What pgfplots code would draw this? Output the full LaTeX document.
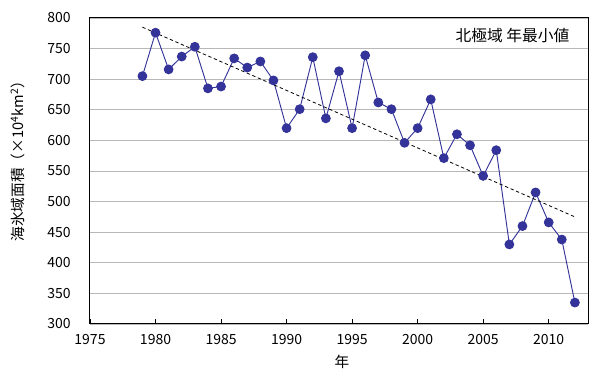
\documentclass[border=0pt]{standalone}
\usepackage{fontspec}
\setmainfont{Noto Sans CJK JP}
\usepackage{pgfplots}
\usepackage{pgfplotstable}
\pgfplotsset{compat=1.18}
\definecolor{ser}{RGB}{51,51,153}
\pgfplotstableread{
year val
1979 705
1980 776
1981 716
1982 737
1983 753
1984 685
1985 688
1986 734
1987 719
1988 729
1989 698
1990 620
1991 651
1992 736
1993 636
1994 713
1995 620
1996 739
1997 662
1998 651
1999 596
2000 620
2001 667
2002 571
2003 610
2004 592
2005 542
2006 584
2007 430
2008 460
2009 515
2010 466
2011 438
2012 335
}\datatable
\pgfplotstableread{
year val
1979 785
2012 475
}\trendtable
\begin{document}
\begin{tikzpicture}
\begin{axis}[name=ax, scale only axis, width=373.5pt, height=229.5pt,
  xmin=1975, xmax=2013, ymin=300, ymax=800,
  xtick={1975,1980,...,2010}, ytick={300,350,...,800},
  ymajorgrids, grid style={color=black!28, line width=0.6pt},
  axis line style={line width=0.75pt},
  tick align=inside, xtick pos=bottom, ytick pos=left,
  xtick style={black, line width=0.6pt}, major tick length=4pt,
  ytick style={draw=none},
  /pgf/number format/assume math mode=true,
  xticklabel style={/pgf/number format/1000 sep={}, yshift=-4pt},
  yticklabel style={xshift=-11pt},
  tick label style={font=\fontsize{10.5}{12}\selectfont},
  xlabel={年}, ylabel={海氷域面積（×10\textsuperscript{4}km\textsuperscript{2}）},
  label style={font=\fontsize{11}{13}\selectfont},
  xlabel style={at={(axis description cs:0.506,-0.125)}, anchor=center},
  ylabel style={at={(axis description cs:-0.145,0.544)}, anchor=center},
]
\addplot[color=ser, line width=0.7pt, mark=*, mark size=3.3pt, mark options={fill=ser, draw=ser}] table[x=year, y=val] {\datatable};
\addplot[black, line width=0.6pt, dash pattern=on 2.5pt off 2pt] table[x=year, y=val] {\trendtable};
\node[anchor=east, font=\fontsize{11.8}{13}\selectfont] at (axis description cs:0.972,0.944) {北極域 年最小値};
\end{axis}
\path (ax.south west) ++(-67.5pt,-40.5pt) rectangle ++(450.75pt,283.5pt);
\end{tikzpicture}
\end{document}
